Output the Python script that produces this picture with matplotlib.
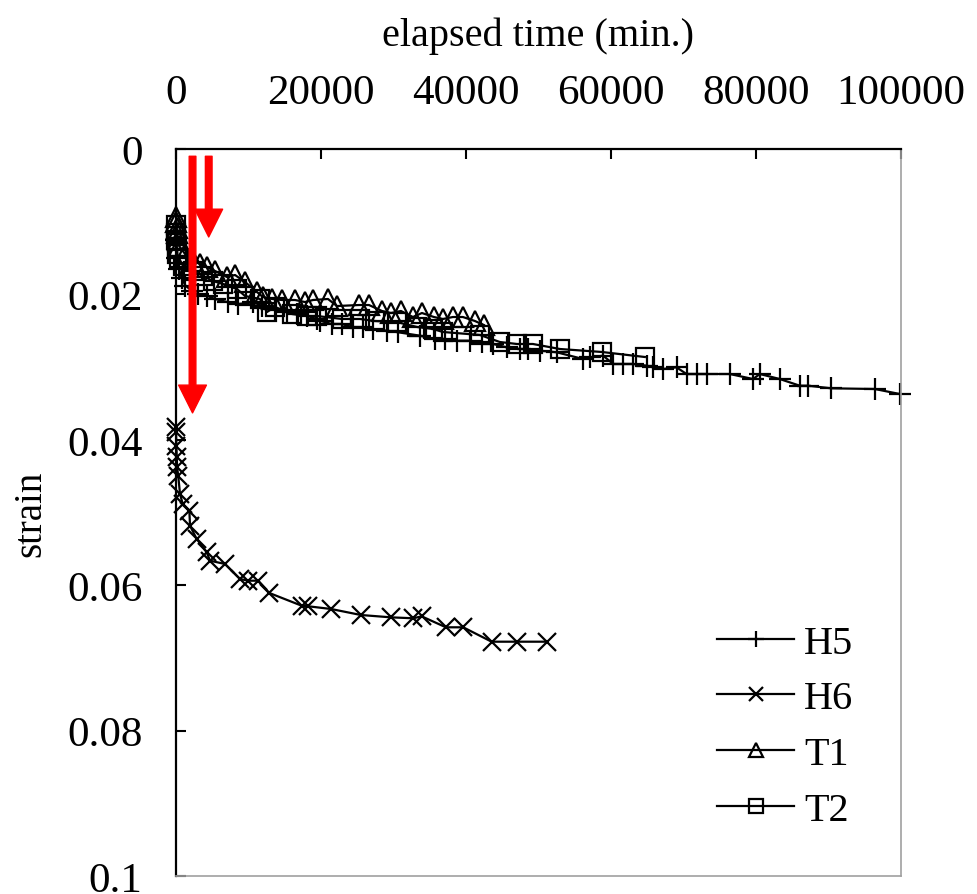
import numpy as np
import matplotlib
matplotlib.use("Agg")
import matplotlib.pyplot as plt

plt.rcParams['font.family'] = ['Liberation Serif', 'DejaVu Serif']

# creep data (time in min, strain)
h5_t = [0, 150, 400, 800, 1300, 2200, 3000, 4234, 5379, 7214, 8593, 10662, 11821, 13655,
        15269, 16648, 18027, 19406, 19862, 21476, 22855, 24455, 25834, 27214, 29062,
        30662, 33655, 35724, 37103, 38717, 40552, 42166, 43765, 45614, 47448, 48593,
        50207, 52510, 56179, 57103, 58938, 60317, 61696, 63076, 64924, 65834, 67214,
        69062, 70441, 71821, 73200, 76414, 79628, 80552, 83310, 86069, 87214, 90441,
        96414, 99862]
h5_s = [0.0125, 0.0150, 0.0165, 0.0178, 0.0188, 0.0195, 0.0200, 0.02018, 0.02063, 0.02109,
        0.02132, 0.02109, 0.02155, 0.02201, 0.02246, 0.0227, 0.02293, 0.02338, 0.02362,
        0.02407, 0.02407, 0.02453, 0.02453, 0.02476, 0.02499, 0.02521, 0.02568, 0.02613,
        0.02613, 0.02637, 0.02637, 0.02659, 0.02682, 0.02728, 0.02751, 0.02751, 0.02774,
        0.02796, 0.02889, 0.02865, 0.02843, 0.02957, 0.02957, 0.02957, 0.02981, 0.03003,
        0.03026, 0.03003, 0.03095, 0.03095, 0.03095, 0.03095, 0.03164, 0.03095, 0.03164,
        0.03256, 0.03256, 0.03292, 0.03301, 0.0337]

h6_t = [0, 0, 50, 100, 150, 300, 552, 924, 1834, 1931, 2855, 4234, 4690, 6759, 8828,
        9972, 11352, 12869, 17337, 18248, 21379, 25517, 29655, 32731, 33890, 37241,
        39628, 43545, 46993, 51131]
h6_s = [0.03828, 0.03897, 0.04081, 0.04241, 0.04378, 0.04494, 0.04746, 0.04883, 0.04975,
        0.05182, 0.05365, 0.05548, 0.05663, 0.05708, 0.05915, 0.05938, 0.05938, 0.06107,
        0.06282, 0.0629, 0.06327, 0.0641, 0.06442, 0.06455, 0.06428, 0.06579, 0.06579,
        0.06777, 0.06777, 0.06777]

t1_t = [0, 50, 100, 150, 250, 400, 1241, 2345, 3310, 4276, 5379, 7034, 8138, 9517, 11172,
        12000, 13241, 14621, 16414, 17793, 18897, 20966, 22207, 25241, 26621, 28414,
        29655, 31034, 32690, 33931, 35586, 36828, 38207, 39586, 41241, 42483]
t1_s = [0.0094, 0.0100, 0.0108, 0.0116, 0.0125, 0.0133, 0.01444, 0.01541, 0.01582,
        0.01623, 0.01678, 0.01761, 0.01733, 0.01829, 0.01967, 0.02036, 0.02063, 0.02077,
        0.02077, 0.02105, 0.02077, 0.02063, 0.0216, 0.02146, 0.02146, 0.02228, 0.02256,
        0.02228, 0.02311, 0.02256, 0.02311, 0.02338, 0.02311, 0.02311, 0.02366, 0.02421]

t2_t = [0, 0, 50, 100, 200, 400, 966, 2345, 3724, 5103, 6483, 8414, 9517, 11586, 12552,
        13655, 16000, 18069, 19448, 22897, 25379, 27448, 30483, 33241, 35448, 36828,
        41931, 44690, 47034, 49241, 52966, 58759, 64690]
t2_s = [0.0105, 0.0115, 0.0125, 0.0135, 0.0145, 0.0150, 0.01609, 0.01678, 0.01747,
        0.01816, 0.01857, 0.01926, 0.02022, 0.02063, 0.02242, 0.02173, 0.0227, 0.02297,
        0.02297, 0.02338, 0.02338, 0.02366, 0.0238, 0.02448, 0.02476, 0.02517, 0.02558,
        0.02655, 0.02682, 0.02682, 0.02751, 0.02792, 0.02861]

# red arrows: (time, strain start, strain tip)
arrow_t = [2276, 4510]
arrow_top = [0.001, 0.001]
arrow_tip = [0.0363, 0.0121]

fig = plt.figure(figsize=(9.78, 8.95), dpi=100)
ax = fig.add_axes([0.18, 0.0201, 0.741, 0.8123])

kw = dict(color='black', lw=1.6, mfc='none', mec='black', mew=1.6, clip_on=False)
ax.plot(h5_t, h5_s, marker='+', ms=16, label='H5', **kw)
ax.plot(h6_t, h6_s, marker='x', ms=13, label='H6', **kw)
ax.plot(t1_t, t1_s, marker='^', ms=14, label='T1', **kw)
ax.plot(t2_t, t2_s, marker='s', ms=13, label='T2', **kw)

for t, a, b in zip(arrow_t, arrow_top, arrow_tip):
    ax.annotate('', xy=(t, b), xytext=(t, a),
                arrowprops=dict(arrowstyle='simple,head_width=1.0,head_length=1.0,tail_width=0.24',
                                mutation_scale=20, color='red', shrinkA=0, shrinkB=0),
                zorder=10)

ax.set_xlim(0, 100000)
ax.set_ylim(0.1, 0)
ax.set_xticks([0, 20000, 40000, 60000, 80000, 100000])
ax.set_yticks([0, 0.02, 0.04, 0.06, 0.08, 0.1])
ax.set_yticklabels(['0', '0.02', '0.04', '0.06', '0.08', '0.1'])
ax.xaxis.tick_top()
ax.xaxis.set_label_position('top')
ax.tick_params(axis='x', direction='in', length=7, width=1.5, pad=27, labelsize=31)
ax.tick_params(axis='y', direction='in', length=7, width=1.5, pad=24, labelsize=31)

for side in ['left', 'top']:
    ax.spines[side].set_linewidth(1.6)
    ax.spines[side].set_color('black')
for side in ['right', 'bottom']:
    ax.spines[side].set_linewidth(1.2)
    ax.spines[side].set_color('#a0a0a0')

ax.set_xlabel('elapsed time (min.)', fontsize=29, labelpad=20)
ax.set_ylabel('strain', fontsize=28, labelpad=13)

leg = ax.legend(loc='upper left', bbox_to_anchor=(0.747, 0.346), frameon=False,
                fontsize=29, handlelength=1.9, handletextpad=0.25, labelspacing=0.46,
                markerscale=0.75, borderpad=0, borderaxespad=0)

fig.savefig('out.png', dpi=100)
